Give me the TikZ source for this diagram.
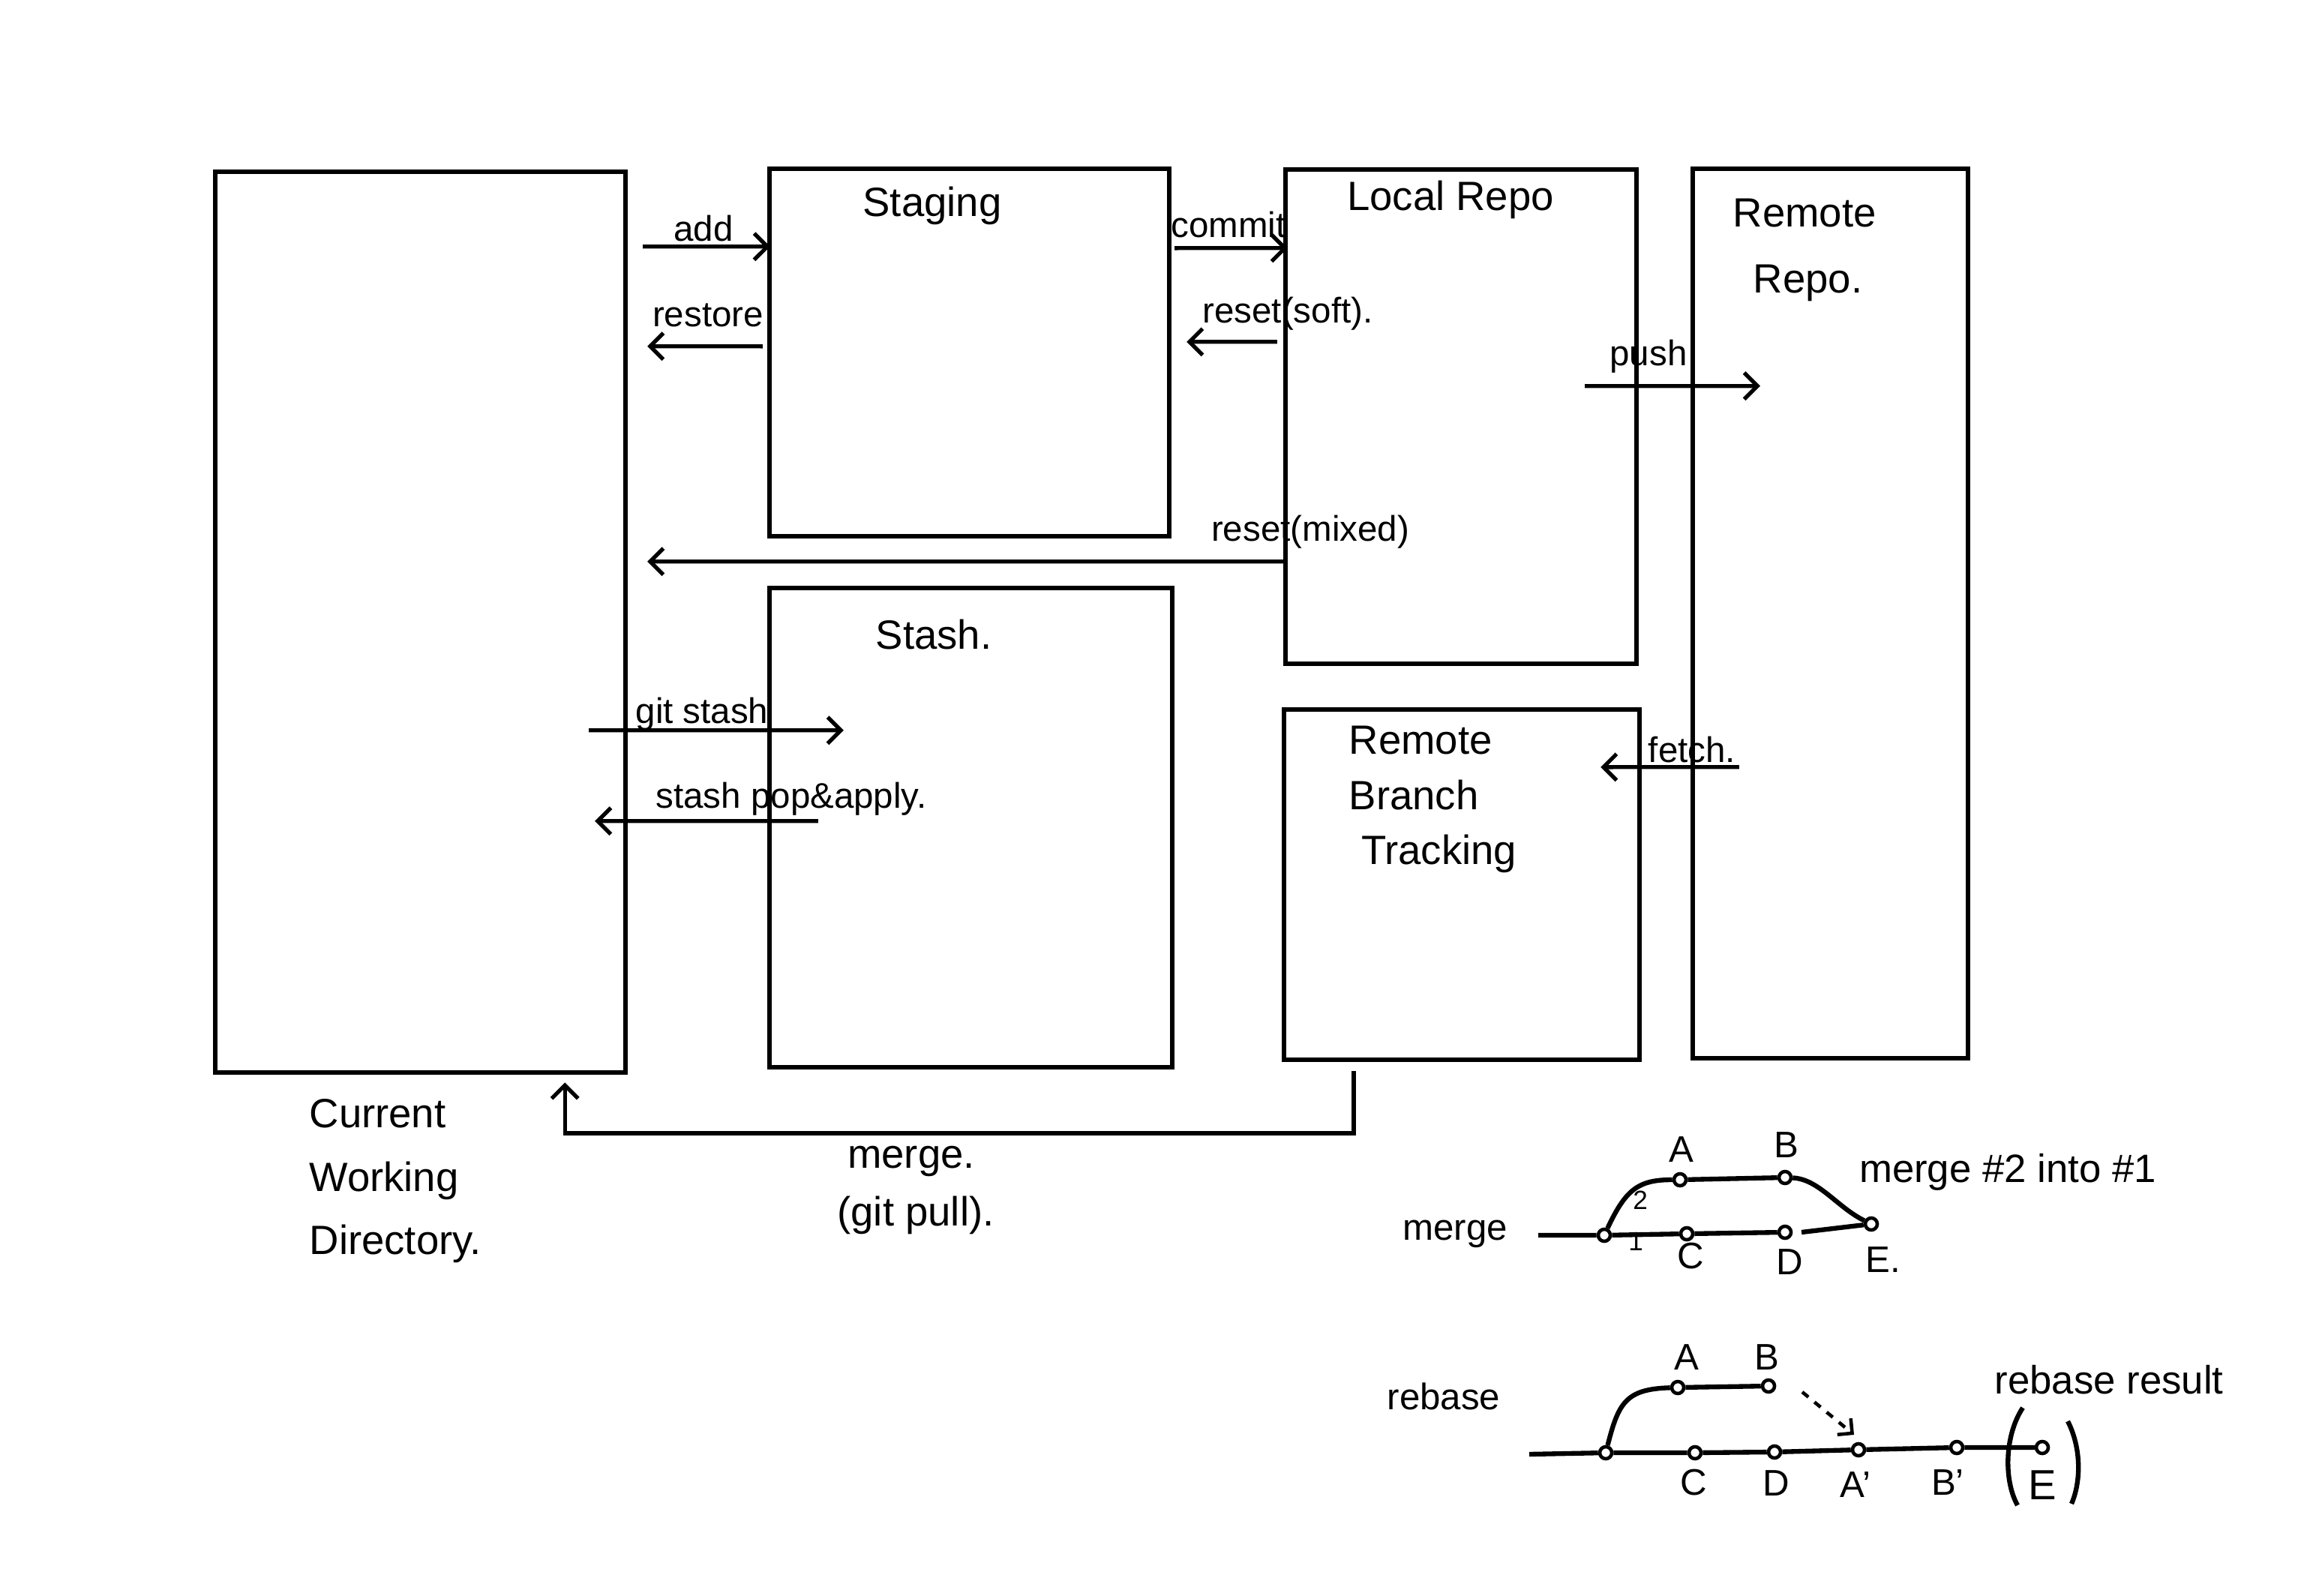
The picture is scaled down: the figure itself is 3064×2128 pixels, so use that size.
\documentclass[tikz,border=0pt]{standalone}
\usepackage{fontspec}
\setmainfont{Liberation Sans}
\usetikzlibrary{arrows.meta,calc}
\begin{document}
\begin{tikzpicture}[x=0.01cm,y=-0.01cm,
  box/.style={draw,line width=1.7pt,rectangle,inner sep=0pt},
  arr/.style={line width=1.5pt,-{Straight Barb[length=5pt,width=10pt,line width=1.5pt]}},
  boxlbl/.style={font=\fontsize{15.5}{22}\selectfont,inner sep=0pt},
  arrlbl/.style={font=\fontsize{13.5}{16}\selectfont,inner sep=0pt},
  glbl/.style={font=\fontsize{14}{17}\selectfont,inner sep=0pt},
  commitdot/.style={circle,draw,fill=white,inner sep=0pt,minimum size=0.16cm,line width=1.3pt},
  gline/.style={line width=1.8pt}]
\useasboundingbox[fill=white] (0,0) rectangle (3064,2128);

% boxes
\node[box,minimum width=5.47cm,minimum height=12.01cm] (cwd) at (560.5,829.5) {};
\node[box,minimum width=5.33cm,minimum height=4.90cm] (stg) at (1292.5,470) {};
\node[box,minimum width=5.37cm,minimum height=6.39cm] (sts) at (1294.5,1103.5) {};
\node[box,minimum width=4.68cm,minimum height=6.59cm] (loc) at (1948,555.5) {};
\node[box,minimum width=4.74cm,minimum height=4.67cm] (rbt) at (1949,1179.5) {};
\node[box,minimum width=3.67cm,minimum height=11.86cm] (rem) at (2440.5,818) {};

% box titles
\node[boxlbl] (tstg) at (1243,274) {Staging};
\node[boxlbl] (tsts) at (1245,846) {Stash.};
\node[boxlbl] (tloc) at (1934,266) {Local Repo};
\node[boxlbl,align=left,anchor=west,font=\fontsize{15.5}{25}\selectfont] (trem) at (2310,333) {Remote\\\hspace*{0.5em}Repo.};
\node[boxlbl,align=left,anchor=west,font=\fontsize{15.5}{21}\selectfont] (trbt) at (1798,1066) {Remote\\Branch\\\hspace*{0.3em}Tracking};
\node[boxlbl,align=left,anchor=west,font=\fontsize{15.5}{24}\selectfont] (tcwd) at (412,1575) {Current\\Working\\Directory.};

% connectors
\draw[arr] ($(cwd.north east)+(20,103)$) -- ($(stg.north west)+(4,107)$);
\node[arrlbl] (ladd) at (938,305) {add};
\draw[arr] ($(stg.north west)+(-6,240)$) -- ($(cwd.north east)+(26,236)$);
\node[arrlbl] (lrestore) at (944,420) {restore};
\draw[arr] ($(stg.north east)+(4,109)$) -- ($(loc.north west)+(6,108)$);
\node[arrlbl] (lcommit) at (1638,300) {commit};
\draw[arr] ($(loc.north west)+(-8,233)$) -- ($(stg.north east)+(20,234)$);
\node[arrlbl] (lsoft) at (1717,418) {reset(soft).};
\draw[arr] ($(loc.north east)+(-72,292)$) -- ($(rem.north west)+(93,293)$);
\node[arrlbl] (lpush) at (2198,475) {push};
\draw[arr] ($(loc.north west)+(0,526)$) -- ($(cwd.north east)+(26,523)$);
\node[arrlbl] (lmixed) at (1747,709) {reset(mixed)};
\draw[arr] ($(cwd.north east)+(-52,748)$) -- ($(sts.north west)+(102,193)$);
\node[arrlbl] (lstash) at (936,952) {git stash};
\draw[arr] ($(sts.north west)+(68,314)$) -- ($(cwd.north east)+(-44,869)$);
\node[arrlbl] (lpop) at (1055,1065) {stash pop\&apply.};
\draw[arr] ($(rem.north west)+(65,801)$) -- ($(rbt.north east)+(-55,80)$);
\node[arrlbl] (lfetch) at (2256,1000) {fetch.};
\draw[arr] ($(rbt.south west)+(96,12)$) -- ++(0,83) -| ($(cwd.south east)+(-84,10)$);
\node[boxlbl] (lmerge) at (1215,1548) {merge.};
\node[boxlbl] (lpull) at (1221,1620) {(git pull).};

% merge graph
\node[glbl] (gmerge) at (1940,1645) {merge};
\coordinate (ms) at (2051,1647);
\node[commitdot] (m0) at (2139,1647) {};
\node[commitdot] (mC) at (2249,1645) {};
\node[commitdot] (mD) at (2380,1643) {};
\node[commitdot] (mE) at (2495,1632) {};
\node[commitdot] (mA) at (2240,1573) {};
\node[commitdot] (mB) at (2380,1570) {};
\draw[gline] (ms) -- (m0) -- (mC) -- (mD);
\draw[gline] ($(mD)+(22,0)$) -- (mE);
\draw[gline] (m0) .. controls (2168,1585) and (2185,1573) .. (mA);
\draw[gline] (mA) -- (mB);
\draw[gline] (mB) .. controls (2425,1572) and (2450,1610) .. (mE);
\node[glbl] (lmA) at (2242,1533) {A};
\node[glbl] (lmB) at (2382,1527) {B};
\node[glbl] (lmC) at (2254,1675) {C};
\node[glbl] (lmD) at (2386,1683) {D};
\node[glbl] (lmE) at (2511,1680) {E.};
\node[glbl,font=\fontsize{10}{12}\selectfont] (l1) at (2181,1655) {1};
\node[glbl,font=\fontsize{10}{12}\selectfont] (l2) at (2187,1600) {2};
\node[glbl,font=\fontsize{15}{18}\selectfont] (lmt) at (2677,1563) {merge \#2 into \#1};

% rebase graph
\node[glbl] (grebase) at (1925,1862) {rebase};
\coordinate (rs) at (2039,1939);
\node[commitdot] (r0) at (2141,1937) {};
\node[commitdot] (rC) at (2260,1937) {};
\node[commitdot] (rD) at (2366,1936) {};
\node[commitdot] (rA2) at (2478,1933) {};
\node[commitdot] (rB2) at (2609,1930) {};
\node[commitdot] (rE) at (2723,1930) {};
\node[commitdot] (rA) at (2237,1850) {};
\node[commitdot] (rB) at (2358,1848) {};
\draw[gline] (rs) -- (r0) -- (rC) -- (rD) -- (rA2) -- (rB2) -- (rE);
\draw[gline] (r0) .. controls (2158,1870) and (2168,1852) .. (rA);
\draw[gline] (rA) -- (rB);
\draw[line width=1.3pt,dashed,-{Straight Barb[length=4pt,width=8pt,line width=1.3pt]}] ($(rB)+(45,8)$) -- ($(rA2)+(-6,-20)$);
\node[glbl] (lrA) at (2249,1810) {A};
\node[glbl] (lrB) at (2356,1810) {B};
\node[glbl] (lrC) at (2258,1977) {C};
\node[glbl] (lrD) at (2368,1978) {D};
\node[glbl] (lrA2) at (2474,1980) {A'};
\node[glbl] (lrB2) at (2597,1977) {B'};
\node[glbl,font=\fontsize{16}{18}\selectfont] (lrE) at (2723,1980) {E};
\draw[gline] (2697,1877) .. controls (2672,1915) and (2672,1975) .. (2690,2007);
\draw[gline] (2757,1895) .. controls (2775,1930) and (2775,1975) .. (2762,2005);
\node[glbl,font=\fontsize{15}{18}\selectfont] (lrt) at (2812,1840) {rebase result};
\end{tikzpicture}
\end{document}
